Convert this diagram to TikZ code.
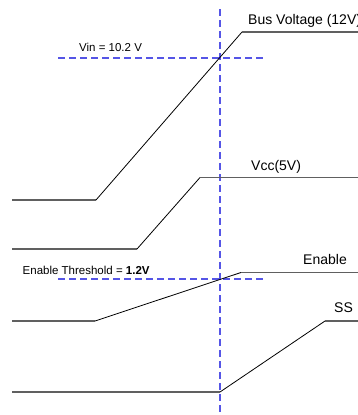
\documentclass[tikz,border=0pt]{standalone}
\usepackage{fontspec}
\setmainfont{Liberation Sans}
\begin{document}
\begin{tikzpicture}[x=1pt,y=-1pt,
  level/.style={draw=gray!75!black,line width=1.2pt},
  ramp/.style={draw=black,line width=0.8pt},
  guide/.style={draw={rgb,255:red,85;green,85;blue,230},line width=1.2pt,dash pattern=on 7pt off 4pt},
  biglabel/.style={anchor=base west,inner sep=0pt,font=\fontsize{14}{16}\selectfont},
  smalllabel/.style={anchor=base west,inner sep=0pt,font=\fontsize{11.5}{13}\selectfont}]
\useasboundingbox (0,0) rectangle (357,415);
% guide lines
\coordinate (vt) at (220,9);
\coordinate (vb) at (220,415);
\draw[guide] (vt) -- (vb);
\coordinate (vinl) at (58,58);
\coordinate (vinr) at (263,58);
\draw[guide] (vinl) -- (vinr);
\coordinate (enl) at (58,279);
\coordinate (enr) at (263,279);
\draw[guide] (enl) -- (enr);
% Bus voltage
\coordinate (b0) at (12,200);
\coordinate (b1) at (96,200);
\coordinate (b2) at (242,32);
\coordinate (b3) at (360,32);
\draw[level] (b0) -- (b1);
\draw[ramp] (b1) -- (b2);
\draw[level] (b2) -- (b3);
% Vcc
\coordinate (c0) at (12,249);
\coordinate (c1) at (137,249);
\coordinate (c2) at (200,177.5);
\coordinate (c3) at (360,177.5);
\draw[level] (c0) -- (c1);
\draw[ramp] (c1) -- (c2);
\draw[level] (c2) -- (c3);
% Enable
\coordinate (e0) at (12,321);
\coordinate (e1) at (95,321);
\coordinate (e2) at (241,272.5);
\coordinate (e3) at (360,272.5);
\draw[level] (e0) -- (e1);
\draw[ramp] (e1) -- (e2);
\draw[level] (e2) -- (e3);
% SS
\coordinate (s0) at (12,392);
\coordinate (s1) at (220,392);
\coordinate (s2) at (325,321);
\coordinate (s3) at (360,321);
\draw[level] (s0) -- (s1);
\draw[ramp] (s1) -- (s2);
\draw[level] (s2) -- (s3);
% labels
\node[biglabel] (lbus) at (248,24) {Bus Voltage (12V)};
\node[smalllabel] (lvin) at (79,51) {Vin = 10.2 V};
\node[biglabel] (lvcc) at (251,170) {Vcc(5V)};
\node[smalllabel] (lthr) at (22.5,274) {Enable Threshold = \textbf{1.2V}};
\node[biglabel] (len) at (303,264) {Enable};
\node[biglabel] (lss) at (334,312) {SS};
\end{tikzpicture}
\end{document}
